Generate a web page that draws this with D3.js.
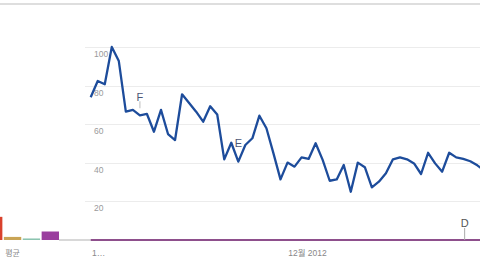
<!DOCTYPE html>
<html><head><meta charset="utf-8">
<script src="https://cdn.jsdelivr.net/npm/d3@7"></script>
<style>
html,body{margin:0;padding:0;background:#fff;overflow:hidden}
svg{display:block}
text{font-family:"Liberation Sans",Arial,"Noto Sans CJK KR",sans-serif}
</style></head>
<body>
<script>
// Main search-interest series (weekly points, partially visible)
const seriesValues = [74,82.4,80.7,100,92.7,66.5,67.4,64.6,65.3,56.1,67.4,54.9,51.8,75.5,71,66.5,61.3,69.3,65,41.8,50.4,40.6,49.2,52.7,64.4,57.9,44.9,31.4,40.1,38,42.8,42,50.1,41.5,30.7,31.4,38.9,25,40.1,37.7,27.3,30.2,34.6,41.8,42.8,41.8,39.7,34.2,45.2,39.7,35.4,45.2,42.8,42,40.8,38.7,36];
// Second series (flat at zero)
const series2Values = seriesValues.map(() => 0);
// Y-axis tick labels
const yTicks = [20,40,60,80,100];
// X-axis tick labels and their positions (index of week)
const xTickLabels = ["1…","12월 2012"];
const xTickIndex = [0.2,28.1];
// Annotation letters
const noteLetters = ["F","E","D"];
const noteIndex = [7,21,53.2];
const noteSeries = [1,1,2];
// Average bar chart (left)
const barCategories = ["red","gold","teal","purple"];
const barValues = [12,1.6,0.8,4.4];
const barColors = ["#d9412c","#c9a455","#8cc4b0","#9a3e9e"];
const barLabel = "평균";

const W=480,H=270;
const svg=d3.select("body").append("svg").attr("width",W).attr("height",H);

const x=d3.scaleLinear().domain([0,55]).range([90.7,477.3]);
const y=d3.scaleLinear().domain([0,100]).range([240,47]);

// top rule
svg.append("line").attr("x1",0).attr("x2",W).attr("y1",4).attr("y2",4)
  .attr("stroke","#dedede").attr("stroke-width",2);

// gridlines
svg.append("g").selectAll("line").data(yTicks).join("line")
  .attr("x1",85).attr("x2",W).attr("y1",d=>Math.round(y(d))+0.5).attr("y2",d=>Math.round(y(d))+0.5)
  .attr("stroke","#ececec").attr("stroke-width",1);

// y labels
svg.append("g").selectAll("text").data(yTicks).join("text")
  .attr("x",94).attr("y",d=>y(d)+10).attr("font-size",8.5).attr("fill","#9a9a9a")
  .text(d=>d);

// bar chart
const xb=d3.scaleBand().domain(barCategories).range([-15,59]).paddingInner(0.08);
svg.append("g").selectAll("rect").data(barCategories).join("rect")
  .attr("x",d=>xb(d)).attr("width",xb.bandwidth())
  .attr("y",(d,i)=>y(barValues[i])).attr("height",(d,i)=>y(0)-y(barValues[i]))
  .attr("fill",(d,i)=>barColors[i]);
svg.append("line").attr("x1",59).attr("x2",x(0)).attr("y1",240).attr("y2",240)
  .attr("stroke","#d8d8d8").attr("stroke-width",2);
svg.append("text").attr("x",12.5).attr("y",256).attr("text-anchor","middle")
  .attr("font-size",8).attr("fill","#888").text(barLabel);

// zero series
const line=d3.line().x((d,i)=>x(i)).y(d=>y(d));
svg.append("path").datum(series2Values).attr("d",line)
  .attr("fill","none").attr("stroke","#8e4f8c").attr("stroke-width",2);

// main series
svg.append("path").datum(seriesValues).attr("d",line)
  .attr("fill","none").attr("stroke","#1d4c9b").attr("stroke-width",2.3)
  .attr("stroke-linejoin","round");

// annotations
noteLetters.forEach((L,k)=>{
  const xi=x(noteIndex[k]);
  const base = noteSeries[k]===1 ? y(seriesValues[Math.round(noteIndex[k])]) : y(0);
  if(noteSeries[k]===2){
    svg.append("line").attr("x1",xi).attr("x2",xi).attr("y1",base-12).attr("y2",base)
      .attr("stroke","#aaa").attr("stroke-width",1);
  } else if(L==="F"){
    svg.append("line").attr("x1",xi).attr("x2",xi).attr("y1",base-14).attr("y2",base-7)
      .attr("stroke","#c8c8c8").attr("stroke-width",1.2);
  }
  svg.append("text").attr("x",xi).attr("y",noteSeries[k]===2?base-13:(L==="F"?base-14:base-15))
    .attr("text-anchor","middle").attr("font-size",11)
    .attr("fill",noteSeries[k]===2?"#555":"#4d5675").text(L);
});

// x tick labels
svg.append("g").selectAll("text").data(xTickLabels).join("text")
  .attr("x",(d,i)=>x(xTickIndex[i])).attr("y",256)
  .attr("font-size",8.5).attr("fill","#888").text(d=>d);
</script>
</body></html>
